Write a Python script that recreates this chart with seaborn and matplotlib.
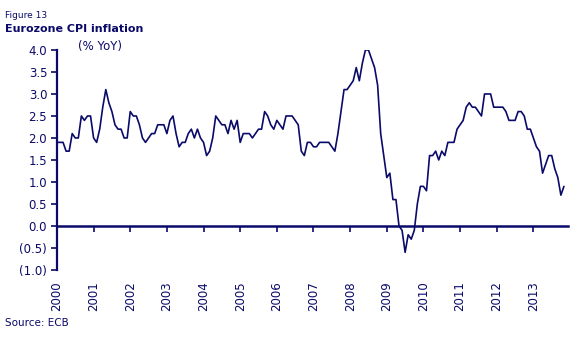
import numpy as np
import pandas as pd
import matplotlib
matplotlib.use("Agg")
import matplotlib.pyplot as plt
import seaborn as sns
from matplotlib.ticker import FuncFormatter

# Euro area HICP inflation, % YoY, monthly from Jan 2000
y2000 = [1.9, 1.9, 1.9, 1.7, 1.7, 2.1, 2.0, 2.0, 2.5, 2.4, 2.5, 2.5]
y2001 = [2.0, 1.9, 2.2, 2.7, 3.1, 2.8, 2.6, 2.3, 2.2, 2.2, 2.0, 2.0]
y2002 = [2.6, 2.5, 2.5, 2.3, 2.0, 1.9, 2.0, 2.1, 2.1, 2.3, 2.3, 2.3]
y2003 = [2.1, 2.4, 2.5, 2.1, 1.8, 1.9, 1.9, 2.1, 2.2, 2.0, 2.2, 2.0]
y2004 = [1.9, 1.6, 1.7, 2.0, 2.5, 2.4, 2.3, 2.3, 2.1, 2.4, 2.2, 2.4]
y2005 = [1.9, 2.1, 2.1, 2.1, 2.0, 2.1, 2.2, 2.2, 2.6, 2.5, 2.3, 2.2]
y2006 = [2.4, 2.3, 2.2, 2.5, 2.5, 2.5, 2.4, 2.3, 1.7, 1.6, 1.9, 1.9]
y2007 = [1.8, 1.8, 1.9, 1.9, 1.9, 1.9, 1.8, 1.7, 2.1, 2.6, 3.1, 3.1]
y2008 = [3.2, 3.3, 3.6, 3.3, 3.7, 4.0, 4.0, 3.8, 3.6, 3.2, 2.1, 1.6]
y2009 = [1.1, 1.2, 0.6, 0.6, 0.0, -0.1, -0.6, -0.2, -0.3, -0.1, 0.5, 0.9]
y2010 = [0.9, 0.8, 1.6, 1.6, 1.7, 1.5, 1.7, 1.6, 1.9, 1.9, 1.9, 2.2]
y2011 = [2.3, 2.4, 2.7, 2.8, 2.7, 2.7, 2.6, 2.5, 3.0, 3.0, 3.0, 2.7]
y2012 = [2.7, 2.7, 2.7, 2.6, 2.4, 2.4, 2.4, 2.6, 2.6, 2.5, 2.2, 2.2]
y2013 = [2.0, 1.8, 1.7, 1.2, 1.4, 1.6, 1.6, 1.3, 1.1, 0.7, 0.9]

years = list(range(2000, 2014))
y_ticks = [4.0, 3.5, 3.0, 2.5, 2.0, 1.5, 1.0, 0.5, 0.0, -0.5, -1.0]

series = [y2000, y2001, y2002, y2003, y2004, y2005, y2006,
          y2007, y2008, y2009, y2010, y2011, y2012, y2013]
values = [v for yr in series for v in yr]
t = [2000 + i / 12 for i in range(len(values))]
df = pd.DataFrame({"t": t, "cpi": values})

NAVY = "#0a0a6a"

sns.set_theme(style="white")
plt.rcParams["font.family"] = ["DejaVu Sans"]

fig = plt.figure(figsize=(5.87, 3.40), dpi=100)
ax = fig.add_axes([0.097, 0.206, 0.871, 0.647])

sns.lineplot(data=df, x="t", y="cpi", ax=ax, color=NAVY, linewidth=1.2)

ax.set_xlim(2000, 2013.95)
ax.set_ylim(-1.0, 4.0)
ax.set_xlabel("")
ax.set_ylabel("")

for s in ["top", "right", "bottom"]:
    ax.spines[s].set_visible(False)
ax.spines["left"].set_color(NAVY)
ax.spines["left"].set_linewidth(1.6)

ax.set_yticks(y_ticks)
ax.yaxis.set_major_formatter(
    FuncFormatter(lambda v, p: f"({abs(v):.1f})" if v < 0 else f"{v:.1f}"))
ax.tick_params(axis="y", direction="out", length=4, width=1.2, color=NAVY,
               labelcolor=NAVY, labelsize=8.5, pad=3, left=True)

# year labels along the bottom, rotated
ax.set_xticks(years)
ax.set_xticklabels([str(y) for y in years], rotation=90)
ax.tick_params(axis="x", length=0, labelcolor=NAVY, labelsize=8.5, pad=8)

# zero line carrying the year tick marks
zero = ax.secondary_xaxis(0.2)
zero.set_xticks(years)
zero.set_xticklabels([])
zero.spines["bottom"].set_color(NAVY)
zero.spines["bottom"].set_linewidth(1.8)
zero.tick_params(axis="x", direction="out", length=4, width=1.2, color=NAVY)

ax.text(0.042, 0.985, "(% YoY)", transform=ax.transAxes, color=NAVY,
        fontsize=8.5, va="bottom", ha="left")

fig.text(0.009, 0.955, "Figure 13", color=NAVY, fontsize=6.5, ha="left", va="center")
fig.text(0.009, 0.915, "Eurozone CPI inflation", color=NAVY, fontsize=8,
         fontweight="bold", ha="left", va="center")
fig.text(0.009, 0.05, "Source: ECB", color=NAVY, fontsize=7.5, ha="left", va="center")

fig.savefig("out.png", dpi=100)
